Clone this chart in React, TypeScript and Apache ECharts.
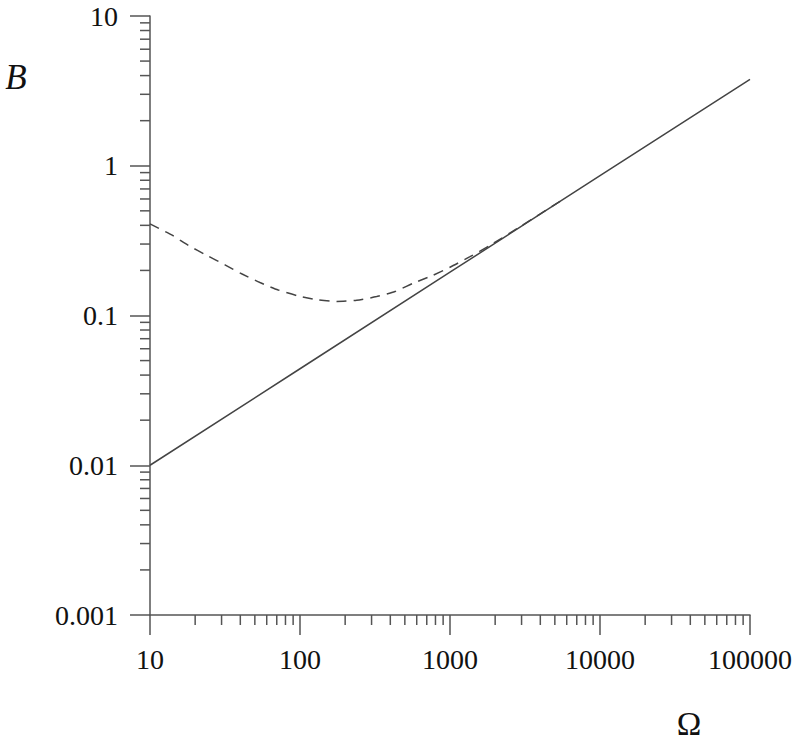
import React, { useEffect, useRef } from "react";
import * as echarts from "echarts";

// Tick labels
const xTickLabels = ["10", "100", "1000", "10000", "100000"];
const yTickLabels = ["0.001", "0.01", "0.1", "1", "10"];

// Solid line (Ω, B)
const solidOmega = [10, 100, 1000, 10000, 100000];
const solidB = [0.01, 0.0441, 0.1945, 0.858, 3.78];

// Dashed curve (Ω, B)
const dashedOmega = [10, 13.95, 18.0, 23.9, 31.6, 40.8, 54.1, 71.6, 97.5, 132.4, 175.6, 238.8, 324.5, 430, 569, 755, 1000, 1359, 1848, 2929, 5412];
const dashedB = [0.409, 0.345, 0.294, 0.252, 0.218, 0.19, 0.166, 0.148, 0.135, 0.1272, 0.124, 0.1263, 0.1338, 0.1445, 0.1644, 0.184, 0.21, 0.247, 0.294, 0.3915, 0.579];

// Minor tick positions (decade subdivisions 2..9)
const xMinor: number[] = [];
for (let d = 10; d < 100000; d *= 10) for (let k = 2; k <= 9; k++) xMinor.push(k * d);
const yMinor: number[] = [];
for (let d = 0.001; d < 9; d *= 10) for (let k = 2; k <= 9; k++) yMinor.push(+(k * d).toPrecision(3));

const FONT = "'Liberation Serif', 'Times New Roman', Times, serif";
const AXIS = "#555";
const LINE = "#444";

function labelFor(list: string[], v: number) {
  const hit = list.find((l) => Math.abs(Math.log10(+l) - Math.log10(v)) < 1e-6);
  return hit ?? "";
}

export default function App() {
  const ref = useRef<HTMLDivElement>(null);
  useEffect(() => {
    if (!ref.current) return;
    const chart = echarts.init(ref.current, undefined, { renderer: "svg" });
    const yMin = +yTickLabels[0];
    const xMin = +xTickLabels[0];
    chart.setOption({
      animation: false,
      backgroundColor: "#fff",
      grid: { left: 150, right: 50, top: 16, bottom: 127, containLabel: false },
      xAxis: {
        type: "log",
        logBase: 10,
        min: xMin,
        max: +xTickLabels[xTickLabels.length - 1],
        axisLine: { show: true, lineStyle: { color: AXIS, width: 1.5 } },
        axisTick: { show: true, inside: false, length: 20, lineStyle: { color: AXIS, width: 1.5 } },
        splitLine: { show: false },
        minorTick: { show: false },
        axisLabel: {
          margin: 30,
          fontFamily: FONT,
          fontSize: 28,
          color: "#111",
          formatter: (v: number) => labelFor(xTickLabels, v),
        },
      },
      yAxis: {
        type: "log",
        logBase: 10,
        min: yMin,
        max: +yTickLabels[yTickLabels.length - 1],
        axisLine: { show: true, lineStyle: { color: AXIS, width: 1.5 } },
        axisTick: { show: true, inside: false, length: 20, lineStyle: { color: AXIS, width: 1.5 } },
        splitLine: { show: false },
        minorTick: { show: false },
        axisLabel: {
          margin: 32,
          fontFamily: FONT,
          fontSize: 28,
          color: "#111",
          formatter: (v: number) => labelFor(yTickLabels, v),
        },
      },
      series: [
        {
          type: "custom",
          clip: false,
          silent: true,
          data: xMinor.map((v) => [v, yMin]),
          renderItem: (params: any, api: any) => {
            const p = api.coord([api.value(0), api.value(1)]);
            return {
              type: "line",
              shape: { x1: p[0], y1: p[1], x2: p[0], y2: p[1] + 10 },
              style: { stroke: AXIS, lineWidth: 1.5 },
            };
          },
        },
        {
          type: "custom",
          clip: false,
          silent: true,
          data: yMinor.map((v) => [xMin, v]),
          renderItem: (params: any, api: any) => {
            const p = api.coord([api.value(0), api.value(1)]);
            return {
              type: "line",
              shape: { x1: p[0] - 10, y1: p[1], x2: p[0], y2: p[1] },
              style: { stroke: AXIS, lineWidth: 1.5 },
            };
          },
        },
        {
          type: "line",
          showSymbol: false,
          data: solidOmega.map((o, i) => [o, solidB[i]]),
          lineStyle: { color: LINE, width: 1.5 },
        },
        {
          type: "line",
          showSymbol: false,
          smooth: 0.2,
          data: dashedOmega.map((o, i) => [o, dashedB[i]]),
          lineStyle: { color: LINE, width: 1.5, type: [10, 7] },
        },
      ],
      graphic: [
        {
          type: "text",
          x: 16,
          y: 77,
          style: {
            text: "B",
            fontFamily: FONT,
            fontStyle: "italic",
            fontSize: 35,
            fill: "#111",
            align: "center",
            verticalAlign: "middle",
          },
        },
        {
          type: "text",
          x: 689,
          y: 724,
          style: {
            text: "Ω",
            fontFamily: FONT,
            fontSize: 33,
            fill: "#111",
            align: "center",
            verticalAlign: "middle",
          },
        },
      ],
    });
    return () => chart.dispose();
  }, []);
  return (
    <div
      ref={ref}
      style={{ position: "fixed", left: 0, top: 0, width: 800, height: 742, background: "#fff" }}
    />
  );
}
